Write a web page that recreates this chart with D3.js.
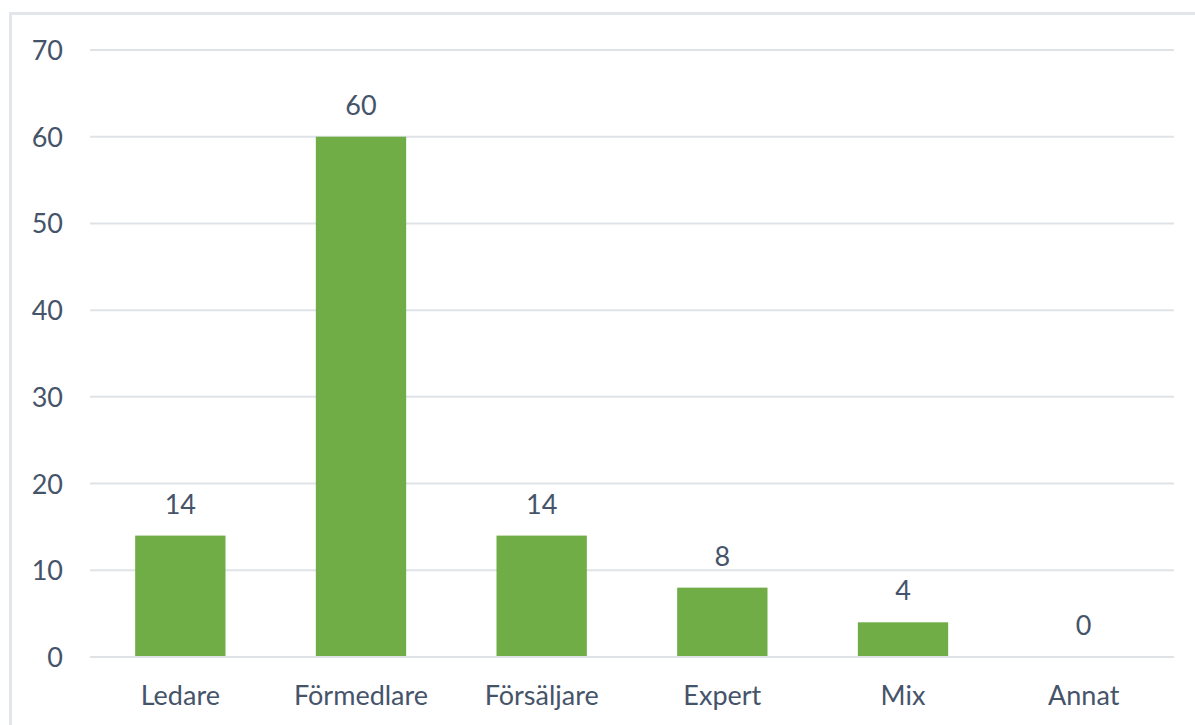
<!DOCTYPE html>
<html>
<head>
<meta charset="utf-8">
<script src="https://cdn.jsdelivr.net/npm/d3@7"></script>
<style>
  html, body { margin: 0; padding: 0; background: #fff; }
  svg { display: block; }
  text { font-family: Lato, "Open Sans", sans-serif; fill: #46546a; }
</style>
</head>
<body>
<svg id="chart" width="1195" height="725"></svg>
<script>
// Roles and their counts
const categories = ["Ledare", "Förmedlare", "Försäljare", "Expert", "Mix", "Annat"];
const values = [14, 60, 14, 8, 4, 0];
const yTicks = [0, 10, 20, 30, 40, 50, 60, 70];

const svg = d3.select("#chart");
const W = 1195, H = 725;
const plot = { left: 90, right: 1174, top: 50, bottom: 657 };
const fontSize = 27;
const textColor = "#46546a";

// Chart frame (extends past the window edges)
svg.append("rect")
  .attr("x", 10.5).attr("y", 13.5)
  .attr("width", W + 20).attr("height", H + 20)
  .attr("fill", "none")
  .attr("stroke", "#e2e6eb")
  .attr("stroke-width", 3);

const x = d3.scaleBand()
  .domain(categories)
  .range([plot.left, plot.right])
  .paddingInner(0.5)
  .paddingOuter(0.25);

const y = d3.scaleLinear()
  .domain([0, 70])
  .range([plot.bottom, plot.top]);

// Horizontal gridlines
svg.append("g")
  .selectAll("line")
  .data(yTicks)
  .join("line")
  .attr("x1", plot.left).attr("x2", plot.right)
  .attr("y1", d => y(d)).attr("y2", d => y(d))
  .attr("stroke", "#dfe3e8")
  .attr("stroke-width", 2);

// Y axis labels
const yAxis = d3.axisLeft(y).tickValues(yTicks).tickSize(0).tickPadding(0);
const gy = svg.append("g").attr("transform", "translate(63,0)").call(yAxis);
gy.select(".domain").remove();
gy.selectAll("text")
  .attr("font-size", fontSize)
  .attr("dy", "0.35em")
  .style("font-family", "Lato, 'Open Sans', sans-serif")
  .style("fill", textColor);

// Bars
svg.append("g")
  .selectAll("rect")
  .data(categories)
  .join("rect")
  .attr("x", d => x(d))
  .attr("width", x.bandwidth())
  .attr("y", (d, i) => y(values[i]))
  .attr("height", (d, i) => y(0) - y(values[i]))
  .attr("fill", "#70ad47");

// Baseline redrawn over bar bottoms
svg.append("line")
  .attr("x1", plot.left).attr("x2", plot.right)
  .attr("y1", y(0)).attr("y2", y(0))
  .attr("stroke", "#dfe3e8")
  .attr("stroke-width", 2);

// Value labels above bars
svg.append("g")
  .selectAll("text")
  .data(categories)
  .join("text")
  .attr("x", d => x(d) + x.bandwidth() / 2)
  .attr("y", (d, i) => y(values[i]) - 22)
  .attr("text-anchor", "middle")
  .attr("font-size", fontSize)
  .text((d, i) => values[i]);

// Category axis labels
const xAxis = d3.axisBottom(x).tickSize(0).tickPadding(0);
const gx = svg.append("g").attr("transform", `translate(0,${plot.bottom})`).call(xAxis);
gx.select(".domain").remove();
gx.selectAll("text")
  .attr("y", 48)
  .attr("dy", 0)
  .attr("font-size", fontSize)
  .style("font-family", "Lato, 'Open Sans', sans-serif")
  .style("fill", textColor);
</script>
</body>
</html>
